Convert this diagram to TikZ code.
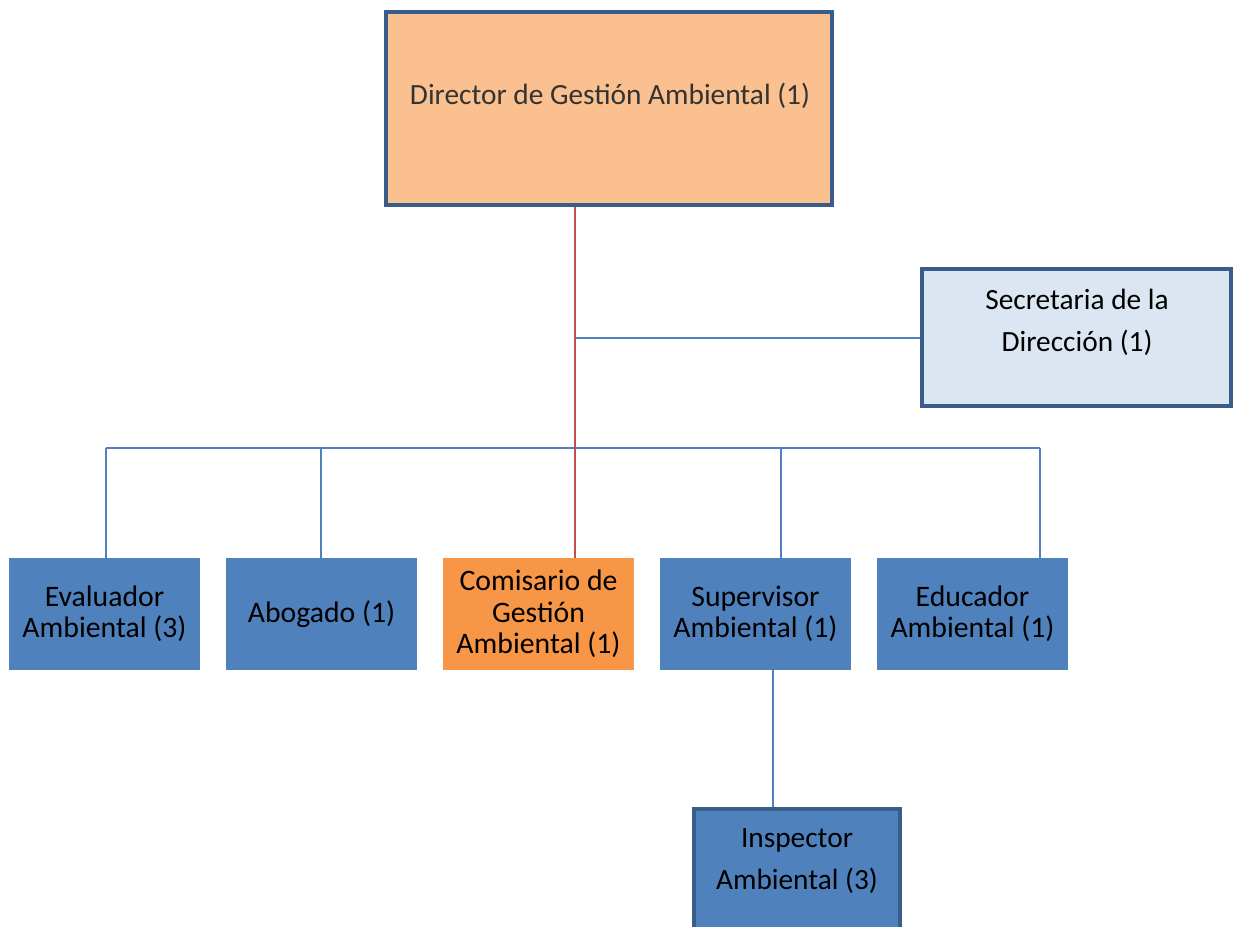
\documentclass[tikz,border=0pt]{standalone}
\usepackage{fontspec}
\setmainfont{Carlito}
\definecolor{unitblue}{RGB}{79,129,189}
\definecolor{unitorange}{RGB}{247,150,70}
\definecolor{dirfill}{RGB}{250,192,144}
\definecolor{secfill}{RGB}{220,230,242}
\definecolor{frame}{RGB}{56,93,138}
\definecolor{spinered}{RGB}{192,80,77}

\tikzset{
  unit/.style={rectangle, fill=unitblue, minimum width=143.25pt, minimum height=84pt,
    inner sep=2pt, align=center, font=\fontsize{22.3}{23.5}\selectfont},
  headbox/.style={rectangle, draw=frame, line width=3pt},
  boxtext/.style={align=center, inner sep=0pt, font=\fontsize{22}{31.5}\selectfont},
  bluelink/.style={draw=unitblue, line width=1.5pt},
  redlink/.style={draw=spinered, line width=1.2pt}
}

\begin{document}
\begin{tikzpicture}[x=0.75pt, y=-0.75pt]
        \clip (0,0) rectangle (1237,926);
        \fill[white] (0,0) rectangle (1237,926);

        % boxes
        \node[headbox, fill=dirfill, minimum width=334.5pt, minimum height=144.75pt] (dir) at (609,108.5) {};
        \node[boxtext, text=black!80] (dirtext) at (610,96) {Director de Gestión Ambiental (1)};

        \node[headbox, fill=secfill, minimum width=231.75pt, minimum height=102.75pt] (sec) at (1076.5,337.5) {};
        \node[boxtext] (sectext) at (1077,322) {Secretaria de la\\Dirección (1)};

        \node[unit] (eva) at (104.5,614) {Evaluador\\Ambiental (3)};
        \node[unit] (abo) at (321.5,614) {Abogado (1)};
        \node[unit, fill=unitorange] (com) at (538.5,614) {Comisario de\\Gestión\\Ambiental (1)};
        \node[unit] (sup) at (755.5,614) {Supervisor\\Ambiental (1)};
        \node[unit] (edu) at (972.5,614) {Educador\\Ambiental (1)};

        \node[headbox, fill=unitblue, minimum width=154.5pt, minimum height=98.25pt] (ins) at (797,874.5) {};
        \node[boxtext] (instext) at (797,861) {Inspector\\Ambiental (3)};

        % connectors
        \coordinate (spine) at (575,448);
        \coordinate (busL) at (106,448);
        \coordinate (busR) at (1040,448);
        \coordinate (abodrop) at (321,448);
        \coordinate (supdrop) at (781,448);
        \coordinate (insdrop) at (773,640);

        \path[bluelink] (busL) -- (busR);
        \path[bluelink] (busL) -- (busL |- eva.north);
        \path[bluelink] (abodrop) -- (abodrop |- abo.north);
        \path[bluelink] (supdrop) -- (supdrop |- sup.north);
        \path[bluelink] (busR) -- (busR |- edu.north);
        \path[bluelink] (spine |- sec.west) -- (sec.west);
        \path[bluelink] (insdrop) -- (insdrop |- ins.north);

        \path[redlink] (spine |- dir.south) -- (spine |- com.north);
    \end{tikzpicture}
\end{document}
